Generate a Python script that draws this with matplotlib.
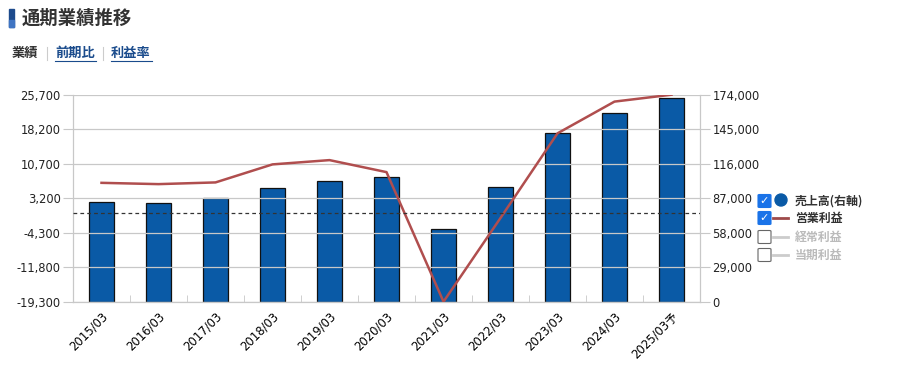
import numpy as np
import matplotlib.pyplot as plt
import matplotlib.transforms as mtransforms
from matplotlib.patches import Rectangle, FancyBboxPatch, Ellipse
from matplotlib.lines import Line2D

plt.rcParams['font.family'] = ['Noto Sans CJK JP', 'DejaVu Sans']

# data
periods = ['2015/03', '2016/03', '2017/03', '2018/03', '2019/03', '2020/03',
           '2021/03', '2022/03', '2023/03', '2024/03', '2025/03予']
sales = [83700, 82800, 87000, 95500, 101300, 104700, 61000, 96300, 141800, 158600, 171200]
op_profit = [6540, 6260, 6630, 10550, 11480, 8870, -19300, -1100, 17300, 24200, 25700]
left_ticks = [-19300, -11800, -4300, 3200, 10700, 18200, 25700]
right_ticks = [0, 29000, 58000, 87000, 116000, 145000, 174000]
legend_items = ['売上高(右軸)', '営業利益', '経常利益', '当期利益']

W, H = 901, 382
fig = plt.figure(figsize=(W / 100, H / 100), dpi=100)
ax = fig.add_axes([73 / W, 1 - 301.7 / H, (700 - 73) / W, (301.7 - 94.7) / H])
ax2 = ax.twinx()

x = np.arange(len(periods))
grid_c = '#c8c8c8'

# bars on the right axis
ax2.bar(x, sales, width=0.45, color='#0a5aa6', edgecolor='#111111', linewidth=0.9, zorder=2)
ax2.set_ylim(right_ticks[0], right_ticks[-1])
ax2.set_yticks(right_ticks)
ax2.set_yticklabels([f'{v:,}' for v in right_ticks], family='DejaVu Sans', fontsize=8.3)

# line on the left axis
ax.set_ylim(left_ticks[0], left_ticks[-1])
ax.set_yticks(left_ticks)
ax.set_yticklabels([f'{v:,}' for v in left_ticks], family='DejaVu Sans', fontsize=8.3)
for t in left_ticks:
    ax.axhline(t, color=grid_c, lw=0.9, zorder=0)
ax.set_zorder(ax2.get_zorder() + 1)
ax.patch.set_visible(False)
ax.plot(x, op_profit, color='#b04e4e', lw=1.8, zorder=3)
ax.axhline(0, color='#333333', lw=0.9, ls=(0, (3, 2.5)), zorder=3)

ax.set_xlim(-0.5, len(periods) - 0.5)
ax.set_xticks(x)
ax.set_xticklabels(periods, rotation=45, ha='right', rotation_mode='anchor',
                   family=['DejaVu Sans', 'Noto Sans CJK JP'], fontsize=8.4)
shift = mtransforms.ScaledTranslation(-5 / 100, -4 / 100, fig.dpi_scale_trans)
for lab in ax.get_xticklabels():
    lab.set_transform(lab.get_transform() + shift)
ax.tick_params(axis='x', length=0, pad=6)
ax.set_xticks(np.arange(0.5, len(periods) - 1, 1), minor=True)
ax.tick_params(axis='x', which='minor', direction='in', length=5, color=grid_c)
for a in (ax, ax2):
    a.tick_params(axis='y', length=7, color=grid_c, labelcolor='#222222', pad=2)
    for s in a.spines.values():
        s.set_color(grid_c)
    a.spines['top'].set_visible(False)

# header
fig.patches.append(Rectangle((9 / W, 1 - 27 / H), 5 / W, 18 / H, color='#1d4a8c', transform=fig.transFigure))
fig.patches.append(Rectangle((9 / W, 1 - 27 / H), 5 / W, 7 / H, color='#3f74c2', transform=fig.transFigure))
fig.text(22 / W, 1 - 18 / H, '通期業績推移', fontsize=13.2, weight='bold', color='#333333', va='center')
fig.text(12 / W, 1 - 53 / H, '業績', fontsize=9.5, weight='bold', color='#333333', va='center')
tabs = [('前期比', 55), ('利益率', 111)]
for lbl, px in tabs:
    fig.text(px / W, 1 - 53 / H, lbl, fontsize=9.5, weight='bold', color='#1a4b8c', va='center')
    fig.add_artist(Line2D([px / W, (px + 41) / W], [1 - 61 / H, 1 - 61 / H], color='#1a4b8c', lw=0.8))
for px in (47, 103):
    fig.add_artist(Line2D([px / W, px / W], [1 - 47 / H, 1 - 60 / H], color='#cccccc', lw=0.8))

# legend with checkboxes
rows = [201, 218, 237, 255]
for i, (lbl, py) in enumerate(zip(legend_items, rows)):
    yy = 1 - py / H
    checked = i < 2
    fig.patches.append(FancyBboxPatch((758 / W, yy - 6.5 / H), 13 / W, 13 / H,
                                      boxstyle='round,pad=0,rounding_size=0.002',
                                      facecolor='#1a73e8' if checked else 'white',
                                      edgecolor='#1a73e8' if checked else '#666666',
                                      lw=0.8, transform=fig.transFigure))
    if checked:
        fig.text(764.5 / W, yy, '✓', color='white', fontsize=8, weight='bold',
                 ha='center', va='center', family='DejaVu Sans')
    if i == 0:
        fig.patches.append(Ellipse((781 / W, yy + 1 / H), 12 / W, 12 / H, color='#0a5aa6',
                                   transform=fig.transFigure))
    else:
        fig.add_artist(Line2D([773 / W, 788 / W], [yy, yy], lw=2,
                              color='#9e4a4a' if checked else '#cccccc'))
    fig.text(795 / W, yy, lbl, fontsize=8.6, weight='bold', va='center',
             color='#333333' if checked else '#bbbbbb')

fig.savefig('out.png', dpi=100)
